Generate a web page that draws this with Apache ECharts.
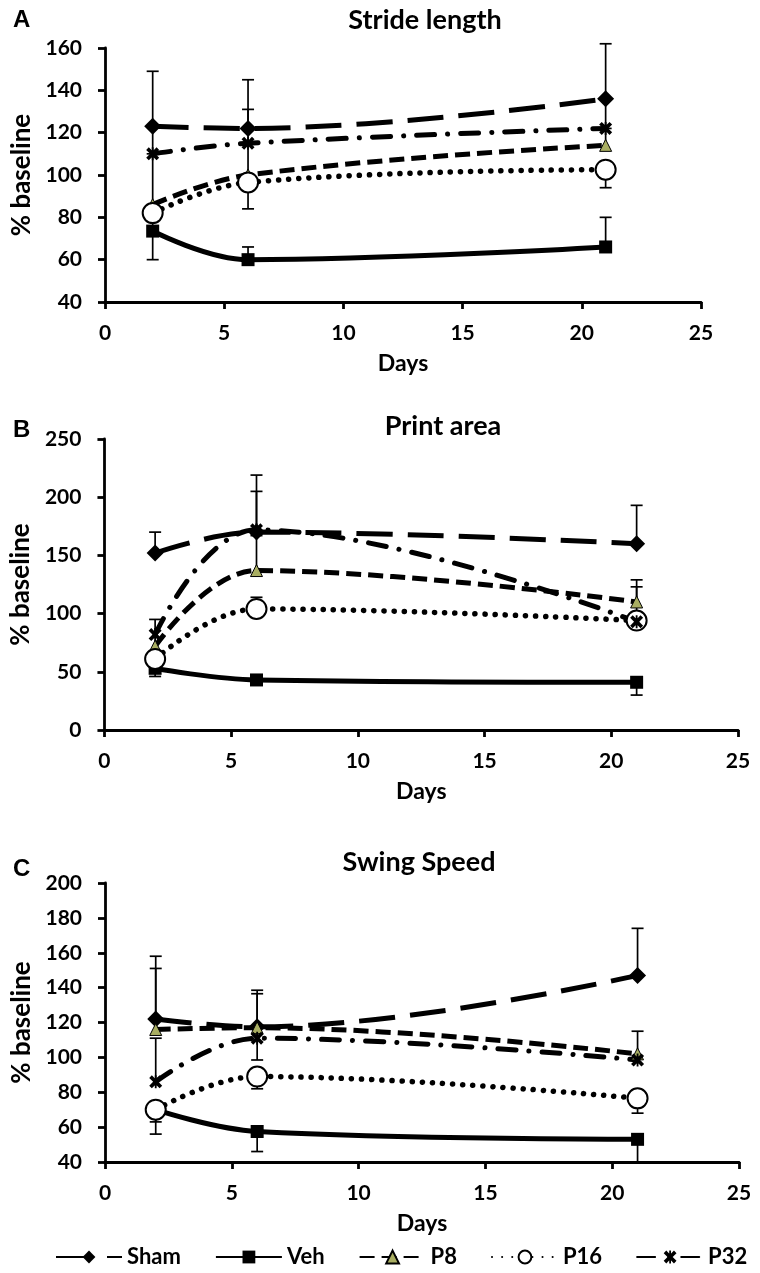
<!DOCTYPE html>
<html><head><meta charset="utf-8">
<script src="https://cdn.jsdelivr.net/npm/echarts@6/dist/echarts.min.js"></script>
<style>html,body{margin:0;padding:0;background:#fff}#c{width:760px;height:1273px}</style>
</head><body><div id="c"></div>
<script>
// ---------- DATA ----------
const days = [2, 6, 21];
const groupNames = ['Sham', 'Veh', 'P8', 'P16', 'P32'];
const xTicks = [0, 5, 10, 15, 20, 25];

// Panel A: Stride length
const strideSham = [123, 122, 136];
const strideVeh  = [73.5, 60, 66];
const strideP8   = [86, 100, 114];
const strideP16  = [82, 96.5, 102.5];
const strideP32  = [110, 115, 122];
const strideShamUp = [26, 23, 26];
const strideVehUp  = [null, 6, 14];
const strideP8Up   = [24, 15, 8];
const strideP16Down= [22, 12.5, 8.5];
const strideP32Up  = [13, 16, 14];

// Panel B: Print area
const printSham = [152, 170, 160];
const printVeh  = [53, 43, 41];
const printP8   = [72, 137, 110];
const printP16  = [61, 104, 94];
const printP32  = [82, 172, 93];
const printShamUp  = [18, 49, 33];
const printVehDown = [7, null, 11];
const printP8Up    = [null, 30, 13];
const printP16Up   = [null, 10, null];
const printP32Up   = [13, 33, 36];

// Panel C: Swing Speed
const swingSham = [122, 117.5, 147];
const swingVeh  = [70, 57.5, 53];
const swingP8   = [116, 117, 102];
const swingP16  = [70, 89, 76.5];
const swingP32  = [86, 111, 98.5];
const swingShamUp  = [36, 21, 27];
const swingVehDown = [7, 11.5, 15];
const swingP8Up    = [35, 19.5, null];
const swingP16Down = [14, 7, 8.5];
const swingP16Up   = [null, null, 4.5];
const swingP32Up   = [25, null, 16.5];
const swingP32Down = [null, 12.5, null];

// ---------- STYLE ----------
const FONT = 'Lato';
const xPath = 'path://M2,0 L5,3 L8,0 L10,2 L7,5 L10,8 L8,10 L5,7 L2,10 L0,8 L3,5 L0,2 Z M4.3,0 L5.7,0 L5.7,10 L4.3,10 Z';
const groupStyle = {
  Sham: {symbol: 'diamond', symbolSize: 17, itemStyle: {color: '#000'}, lineStyle: {color: '#000', width: 5, type: [36, 15]}},
  Veh:  {symbol: 'rect', symbolSize: 13, itemStyle: {color: '#000'}, lineStyle: {color: '#000', width: 5, type: 'solid'}},
  P8:   {symbol: 'triangle', symbolSize: 12, itemStyle: {color: '#a9ae62', borderColor: '#000', borderWidth: 1}, lineStyle: {color: '#000', width: 5, type: [15, 7]}},
  P16:  {symbol: 'circle', symbolSize: 20, itemStyle: {color: '#fff', borderColor: '#000', borderWidth: 2}, lineStyle: {color: '#000', width: 5.5, type: [0.1, 10], cap: 'round'}},
  P32:  {symbol: xPath, symbolSize: 13, itemStyle: {color: '#000'}, lineStyle: {color: '#000', width: 5, type: [18, 13, 0.1, 13], cap: 'round'}}
};

const panels = [
  {letter: 'A', title: 'Stride length', grid: {left: 105, right: 59, top: 48, height: 254}, titleX: 420, titleY: 2, letterY: 3, nameGap: 69,
   yMin: 40, yMax: 160, yInt: 20,
   values: {Sham: strideSham, Veh: strideVeh, P8: strideP8, P16: strideP16, P32: strideP32},
   up: {Sham: strideShamUp, Veh: strideVehUp, P8: strideP8Up, P32: strideP32Up},
   down: {P16: strideP16Down}},
  {letter: 'B', title: 'Print area', grid: {left: 100, right: 22, top: 439, height: 291}, titleX: 438, titleY: 408, letterY: 413, nameGap: 66,
   yMin: 0, yMax: 250, yInt: 50,
   values: {Sham: printSham, Veh: printVeh, P8: printP8, P16: printP16, P32: printP32},
   up: {Sham: printShamUp, P8: printP8Up, P16: printP16Up, P32: printP32Up},
   down: {Veh: printVehDown}},
  {letter: 'C', title: 'Swing Speed', grid: {left: 105, right: 21, top: 883, height: 279}, titleX: 414, titleY: 844, letterY: 852, nameGap: 68,
   yMin: 40, yMax: 200, yInt: 20,
   values: {Sham: swingSham, Veh: swingVeh, P8: swingP8, P16: swingP16, P32: swingP32},
   up: {Sham: swingShamUp, P8: swingP8Up, P16: swingP16Up, P32: swingP32Up},
   down: {Veh: swingVehDown, P16: swingP16Down, P32: swingP32Down}}
];

function errRender(params, api) {
  const x = api.value(0), lo = api.value(1), hi = api.value(2), capAt = api.value(3);
  const p1 = api.coord([x, lo]), p2 = api.coord([x, hi]);
  const children = [{type: 'line', shape: {x1: p1[0], y1: p1[1], x2: p2[0], y2: p2[1]}, style: {stroke: '#000', lineWidth: 1.7}}];
  if (capAt !== 0) {
    const cy = capAt === 1 ? p2[1] : p1[1];
    children.push({type: 'line', shape: {x1: p1[0] - 6, y1: cy, x2: p1[0] + 6, y2: cy}, style: {stroke: '#000', lineWidth: 1.7}});
  }
  return {type: 'group', children};
}

const grids = [], xAxes = [], yAxes = [], series = [], titles = [];
panels.forEach((p, i) => {
  grids.push(p.grid);
  titles.push({text: p.letter, left: 8, top: p.letterY, textStyle: {fontFamily: 'Liberation Sans', fontWeight: 'bold', fontSize: 24, color: '#000'}});
  titles.push({text: p.title, left: p.titleX, top: p.titleY, textAlign: 'center', textStyle: {fontFamily: FONT, fontWeight: 'bold', fontSize: 27, color: '#000'}});
  xAxes.push({type: 'value', gridIndex: i, min: 0, max: 25, interval: 5,
    name: 'Days', nameLocation: 'middle', nameGap: 50,
    nameTextStyle: {fontFamily: FONT, fontWeight: 'bold', fontSize: 23, color: '#000'},
    axisLine: {lineStyle: {color: '#000', width: 2.8}}, axisTick: {length: 7, lineStyle: {color: '#000', width: 2.8}},
    axisLabel: {fontFamily: FONT, fontWeight: 'bold', fontSize: 21, color: '#000', margin: 21}, splitLine: {show: false}});
  yAxes.push({type: 'value', gridIndex: i, min: p.yMin, max: p.yMax, interval: p.yInt,
    name: '% baseline', nameLocation: 'middle', nameRotate: 90, nameGap: p.nameGap,
    nameTextStyle: {fontFamily: FONT, fontWeight: 'bold', fontSize: 26, color: '#000'},
    axisLine: {show: true, lineStyle: {color: '#000', width: 2.8}}, axisTick: {show: true, length: 7, lineStyle: {color: '#000', width: 2.8}},
    axisLabel: {fontFamily: FONT, fontWeight: 'bold', fontSize: 21, color: '#000', margin: 23}, splitLine: {show: false}});
  const errData = [];
  groupNames.forEach(g => {
    const vals = p.values[g];
    const up = p.up[g], down = p.down[g];
    days.forEach((d, k) => {
      if (up && up[k] != null) errData.push([d, vals[k], vals[k] + up[k], 1]);
      if (down && down[k] != null) {
        let lo = vals[k] - down[k], cap = -1;
        if (lo < p.yMin) { lo = p.yMin; cap = 0; }
        errData.push([d, lo, vals[k], cap]);
      }
    });
  });
  series.push({type: 'custom', xAxisIndex: i, yAxisIndex: i, renderItem: errRender, data: errData, z: 1, silent: true});
  groupNames.forEach(g => {
    const st = groupStyle[g];
    series.push({type: 'line', name: g, xAxisIndex: i, yAxisIndex: i, smooth: 0.4, z: 3,
      symbol: st.symbol, symbolSize: st.symbolSize, itemStyle: st.itemStyle, lineStyle: st.lineStyle,
      data: days.map((d, k) => [d, p.values[g][k]])});
  });
});

const chart = echarts.init(document.getElementById('c'), null, {renderer: 'canvas'});
chart.setOption({
  animation: false,
  backgroundColor: '#fff',
  title: titles,
  grid: grids,
  xAxis: xAxes,
  yAxis: yAxes,
  legend: {data: groupNames, top: 1241, left: 50, itemWidth: 66, itemHeight: 16, itemGap: 34,
    textStyle: {fontFamily: FONT, fontWeight: 'bold', fontSize: 22, color: '#000'}},
  series: series
});
</script></body></html>
